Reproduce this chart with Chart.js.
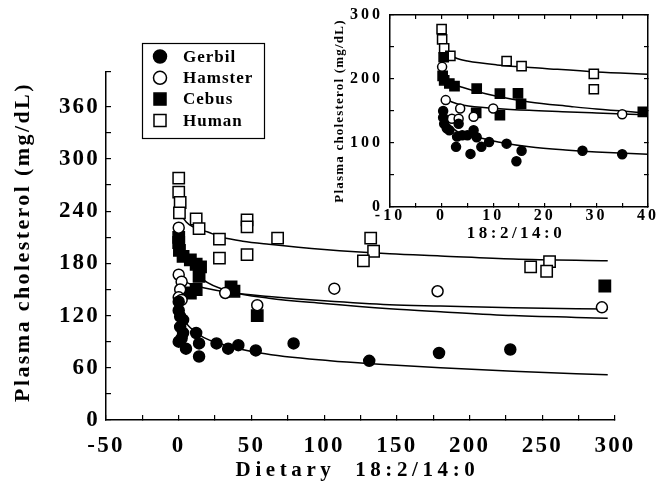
<!DOCTYPE html>
<html lang="en">
<head>
    <meta charset="UTF-8">
    <title>Plasma cholesterol vs dietary 18:2/14:0</title>
    <script src="https://cdn.jsdelivr.net/npm/chart.js"></script>
</head>

<style>
    body {
        margin: 0;
        background: #fff;
    }

    .quadro {
        position: relative;
        width: 656px;
        height: 488px;
    }

    #principal {
        position: absolute;
        left: 0;
        top: 0;
    }

    #detalhe {
        position: absolute;
        left: 330px;
        top: 0;
    }
</style>

<body>

    <div class="quadro">
        <canvas id="principal" width="656" height="488"></canvas>
        <canvas id="detalhe" width="326" height="250"></canvas>
    </div>

    <script>

        const species = ['Gerbil', 'Hamster', 'Cebus', 'Human'];

        // main panel: [dietary 18:2/14:0, plasma cholesterol mg/dL]
        const gerbilPts = [[0, 136], [0, 126], [1, 119], [3, 115], [1, 107], [3, 100], [2, 94], [0, 90], [5, 82], [12, 100], [14, 88], [14, 73], [26, 88], [34, 82], [41, 86], [53, 80], [79, 88], [131, 68], [179, 77], [228, 81]];
        const hamsterPts = [[0, 221], [0, 167], [2, 159], [1, 150], [0, 141], [2, 138], [32, 146], [54, 132], [107, 151], [178, 148], [291, 129.5]];
        const cebusPts = [[0, 210], [0, 204], [0.5, 195], [3, 188], [8, 184], [12, 179], [15, 176], [14, 165], [12, 150], [8, 146], [36, 153], [38, 148], [54, 120], [293, 154]];
        const humanPts = [[0, 278], [0, 262], [1, 250], [0.5, 238], [12, 231], [14, 220], [28, 208], [28, 186], [47, 230], [47, 222], [47, 190], [68, 209], [132, 209], [134, 194], [127, 183], [242, 176], [255, 182], [253, 171]];

        // fitted curves, main panel
        const gerbilFit = [[1.5, 128], [3, 118], [5, 112], [8, 106], [17, 95], [28, 88], [56, 77], [104, 68], [138, 64], [180, 60], [230, 56], [295, 52]];
        const hamsterFit = [[0.8, 172], [2, 165], [4, 160], [10, 155], [17, 152], [35, 146.5], [62, 142], [100, 137], [145, 132.5], [180, 131], [230, 129], [295, 127.5]];
        const cebusFit = [[0.2, 208], [1, 199], [2, 193], [4, 187], [8, 178], [17, 161], [35, 148], [62, 140], [100, 134], [145, 128], [180, 124.5], [230, 120], [295, 117]];
        const humanFit = [[0.5, 250], [1, 243], [2, 236], [5, 228], [10, 222], [20, 216], [30, 210], [44, 205.5], [62, 202], [100, 196], [145, 191], [180, 188.5], [230, 185], [295, 183]];

        // inset panel
        const gerbilPtsIn = [[0.3, 150], [0.3, 140], [0.5, 130], [1, 123], [1.5, 120], [3.3, 130], [3, 110], [4, 112], [5, 112], [6.2, 120], [6.8, 109], [2.8, 94], [5.6, 83], [7.7, 94], [9.2, 101.5], [12.6, 99], [15.5, 88], [14.5, 71.5], [27.3, 88], [35, 82.5]];
        const hamsterPtsIn = [[0.1, 219], [0.8, 167], [2, 138], [3.3, 138], [3.6, 154], [6.2, 141], [10, 154], [35, 145]];
        const cebusPtsIn = [[0.4, 234], [0.2, 205], [0.5, 198], [1.5, 193], [2.5, 189], [6.8, 185], [11.3, 177], [14.8, 177.5], [15.4, 161], [11.3, 143.5], [6.7, 147], [39, 148.5]];
        const humanPtsIn = [[0, 278], [0.1, 262], [0.5, 248], [1.7, 236], [12.6, 228], [15.5, 220], [29.5, 208], [29.5, 184]];

        const gerbilFitIn = [[1.5, 128], [3, 118], [5, 112], [8, 107], [12, 100], [17, 94], [24, 89], [30, 86], [40, 82.5]];
        const hamsterFitIn = [[0.8, 170], [2, 164], [4.3, 159], [10.7, 154], [17, 151], [23.4, 149], [30, 147], [40, 144]];
        const cebusFitIn = [[0.2, 208], [1, 199], [2, 193], [4, 187], [7, 180], [10.7, 173], [17, 164], [25, 157], [30, 153], [40, 147]];
        const humanFitIn = [[0.5, 250], [1, 243], [2, 236], [3, 232], [5, 228], [10.7, 222], [20, 216.5], [30, 211], [40, 207.5]];

        // labelled ticks
        const xLabelsMain = [-50, 0, 50, 100, 150, 200, 250, 300];
        const yLabelsMain = [0, 60, 120, 180, 240, 300, 360];
        const xLabelsIn = [-10, 0, 10, 20, 30, 40];
        const yLabelsIn = [0, 100, 200, 300];

        const fills = ['#000', '#fff', '#000', '#fff'];
        const shapes = ['circle', 'circle', 'rect', 'rect'];

        const FONT = '"Liberation Serif", "Times New Roman", serif';
        Chart.defaults.font.family = FONT;
        Chart.defaults.font.weight = 'bold';
        Chart.defaults.color = '#000';

        const toXY = arr => arr.map(p => ({ x: p[0], y: p[1] }));

        function montaDatasets(pts, fits, rCircle, rRect) {
            const out = [];
            pts.forEach((p, i) => {
                out.push({
                    label: species[i],
                    legenda: true,
                    data: toXY(p),
                    pointStyle: shapes[i],
                    pointRadius: shapes[i] === 'rect' ? rRect : rCircle,
                    backgroundColor: fills[i],
                    pointBackgroundColor: fills[i],
                    pointBorderColor: '#000',
                    borderColor: '#000',
                    pointBorderWidth: 1.5,
                    showLine: false,
                    order: 1
                });
            });
            fits.forEach((f, i) => {
                out.push({
                    label: species[i] + ' fit',
                    data: toXY(f),
                    showLine: true,
                    pointRadius: 0,
                    borderColor: '#000',
                    borderWidth: 1.5,
                    cubicInterpolationMode: 'monotone',
                    fill: false,
                    order: 2
                });
            });
            return out;
        }

        function desenhaLegenda(chart, lg) {
            const ctx = chart.ctx;
            ctx.save();
            ctx.fillStyle = '#fff';
            ctx.fillRect(lg.x, lg.y, lg.w, lg.h);
            ctx.strokeStyle = '#000';
            ctx.lineWidth = 1.2;
            ctx.strokeRect(lg.x + 0.5, lg.y + 0.5, lg.w, lg.h);
            ctx.font = 'bold ' + lg.size + 'px ' + FONT;
            ctx.letterSpacing = lg.spacing + 'px';
            ctx.textAlign = 'left';
            ctx.textBaseline = 'middle';
            const items = chart.data.datasets.filter(d => d.legenda);
            items.forEach((d, i) => {
                const y = lg.y + lg.first + i * lg.step;
                ctx.fillStyle = d.backgroundColor;
                ctx.strokeStyle = '#000';
                ctx.lineWidth = 1.5;
                Chart.helpers.drawPoint(ctx, {
                    pointStyle: d.pointStyle,
                    radius: d.pointStyle === 'rect' ? 8.5 : 6.5,
                    rotation: 0,
                    borderWidth: 1.5
                }, lg.x + 18, y);
                ctx.fillStyle = '#000';
                ctx.fillText(d.label, lg.x + 41, y + 1);
            });
            ctx.restore();
        }

        function desenhaTexto(ctx, t) {
            ctx.save();
            ctx.fillStyle = '#000';
            ctx.font = 'bold ' + t.size + 'px ' + FONT;
            ctx.letterSpacing = t.spacing + 'px';
            ctx.textAlign = 'center';
            ctx.textBaseline = 'middle';
            ctx.translate(t.x, t.y);
            if (t.rot) ctx.rotate(t.rot);
            ctx.fillText(t.text, 0, 0);
            ctx.restore();
        }

        const textos = {
            id: 'textos',
            beforeDraw(chart, args, opts) {
                chart.ctx.letterSpacing = opts.tickSpacing + 'px';
            },
            afterDraw(chart, args, opts) {
                const ctx = chart.ctx;
                const a = chart.chartArea;
                desenhaTexto(ctx, Object.assign({ x: (a.left + a.right) / 2 + opts.xTitle.dx }, opts.xTitle));
                desenhaTexto(ctx, Object.assign({ y: (a.top + a.bottom) / 2 + opts.yTitle.dy, rot: -Math.PI / 2 }, opts.yTitle));
                if (opts.legend) desenhaLegenda(chart, opts.legend);
            }
        };

        function eixo(pos, min, max, step, labels, fontSize, pad, tl, size) {
            return {
                type: 'linear',
                position: pos,
                min: min,
                max: max,
                grid: {
                    drawOnChartArea: false,
                    drawTicks: true,
                    tickLength: tl,
                    color: '#000',
                    lineWidth: 1.2
                },
                border: { display: true, color: '#000', width: 1.5 },
                ticks: {
                    display: labels !== null,
                    stepSize: step,
                    autoSkip: false,
                    maxRotation: 0,
                    minRotation: 0,
                    padding: pad,
                    color: '#000',
                    font: { family: FONT, size: fontSize, weight: 'bold' },
                    callback: v => (labels && labels.includes(v)) ? String(v) : ''
                },
                afterFit(s) {
                    if (pos === 'left' || pos === 'right') s.width = size; else s.height = size;
                    s.paddingLeft = 0; s.paddingRight = 0; s.paddingTop = 0; s.paddingBottom = 0;
                }
            };
        }

        const principal = new Chart(document.getElementById('principal'), {
            type: 'scatter',
            data: {
                datasets: montaDatasets(
                    [gerbilPts, hamsterPts, cebusPts, humanPts],
                    [gerbilFit, hamsterFit, cebusFit, humanFit], 5.5, 8)
            },
            options: {
                responsive: false,
                animation: false,
                layout: { padding: { left: 0, top: 72, right: 41, bottom: 0 } },
                scales: {
                    x: eixo('bottom', -50, 300, 25, xLabelsMain, 23, 17, -5, 68),
                    y: eixo('left', 0, 400, 30, yLabelsMain, 23, 11, -5, 106)
                },
                plugins: {
                    legend: { display: false },
                    tooltip: { enabled: false },
                    textos: {
                        tickSpacing: 2.2,
                        xTitle: { text: 'Dietary  18:2/14:0', size: 21, spacing: 4.6, dx: -3, y: 471 },
                        yTitle: { text: 'Plasma cholesterol (mg/dL)', size: 22, spacing: 2.4, dy: -4, x: 23 },
                        legend: { x: 142, y: 43, w: 122, h: 95, first: 13.5, step: 21.3, size: 17, spacing: 1 }
                    }
                }
            },
            plugins: [textos]
        });

        const detalhe = new Chart(document.getElementById('detalhe'), {
            type: 'scatter',
            data: {
                datasets: montaDatasets(
                    [gerbilPtsIn, hamsterPtsIn, cebusPtsIn, humanPtsIn],
                    [gerbilFitIn, hamsterFitIn, cebusFitIn, humanFitIn], 4.5, 6.5)
            },
            options: {
                responsive: false,
                animation: false,
                layout: { padding: { left: 0, top: 15, right: 6, bottom: 0 } },
                scales: {
                    x: eixo('bottom', -10, 40, 5, xLabelsIn, 16, 3, -4, 43),
                    y: eixo('left', 0, 300, 50, yLabelsIn, 16, 11, -4, 60),
                    x2: eixo('top', -10, 40, 5, null, 16, 0, -4, 0),
                    y2: eixo('right', 0, 300, 50, null, 16, 0, -4, 0)
                },
                plugins: {
                    legend: { display: false },
                    tooltip: { enabled: false },
                    textos: {
                        tickSpacing: 3,
                        xTitle: { text: '18:2/14:0', size: 17, spacing: 3.5, dx: -3, y: 234 },
                        yTitle: { text: 'Plasma cholesterol (mg/dL)', size: 13, spacing: 1.2, dy: 0, x: 10 }
                    }
                }
            },
            plugins: [textos]
        });

    </script>

</body>

</html>
